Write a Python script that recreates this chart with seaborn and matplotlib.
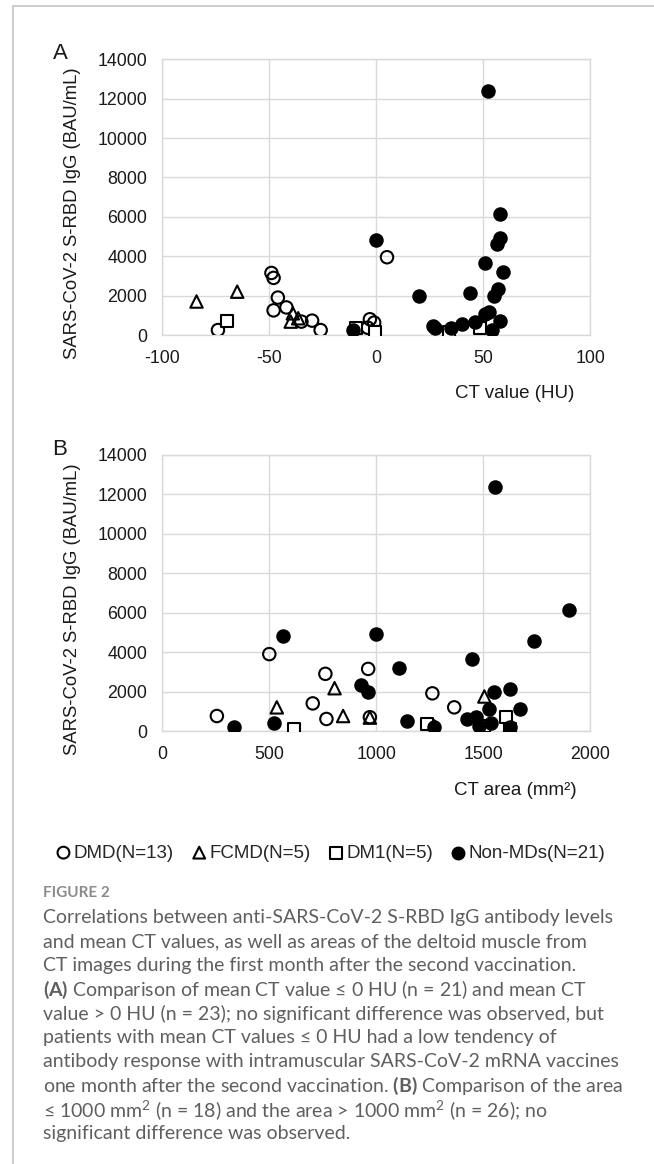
import matplotlib
matplotlib.use("Agg")
import matplotlib.pyplot as plt
import seaborn as sns
import pandas as pd
from matplotlib.lines import Line2D

# Panel A: mean CT value (HU) vs antibody level (BAU/mL)
dmd_ct = [-74, -49, -48, -46, -48, -42, -35, -30, -26, -3, -1, -4, 5]
dmd_igg_a = [250, 3150, 2900, 1900, 1250, 1400, 680, 730, 250, 800, 630, 370, 3950]
fcmd_ct = [-84, -65, -40, -39, -36.5]
fcmd_igg_a = [1700, 2200, 680, 1100, 850]
dm1_ct = [-70, -9.5, -0.5, 34, 48.5]
dm1_igg_a = [700, 370, 150, 130, 340]
nonmd_ct = [0, 20, 52, 58, 58, 56.5, 51, 59, 44, 56.7, 55, 52.5, 51, 58, 46, 40, 35, 26.5, 27.5, 54, -11]
nonmd_igg_a = [4800, 2000, 12400, 6150, 4950, 4600, 3650, 3200, 2150, 2350, 2000,
               1150, 1050, 720, 680, 560, 340, 460, 380, 250, 250]

# Panel B: CT area (mm2) vs antibody level (BAU/mL)
dmd_area = [255, 500, 703, 762, 767, 962, 970, 1262, 1364, 1255]
dmd_igg_b = [760, 3900, 1400, 2900, 610, 3150, 700, 1910, 1200, 280]
fcmd_area = [535, 805, 845, 970, 1505]
fcmd_igg_b = [1200, 2170, 760, 680, 1750]
dm1_area = [617, 1239, 1504, 1606, 1626]
dm1_igg_b = [90, 350, 270, 730, 90]
nonmd_area = [335, 520, 565, 930, 960, 1000, 1105, 1142, 1268, 1423, 1447, 1465, 1481,
              1525, 1536, 1548, 1555, 1626, 1626, 1671, 1735, 1900]
nonmd_igg_b = [220, 400, 4800, 2330, 1970, 4920, 3200, 520, 220, 610, 3650, 720, 270,
               1100, 390, 1960, 12380, 2130, 190, 1100, 4580, 6140]

groups = ["DMD(N=13)", "FCMD(N=5)", "DM1(N=5)", "Non-MDs(N=21)"]
y_ticks = [0, 2000, 4000, 6000, 8000, 10000, 12000, 14000]
a_ticks = [-100, -50, 0, 50, 100]
b_ticks = [0, 500, 1000, 1500, 2000]

caption_lines = [
    "Correlations between anti-SARS-CoV-2 S-RBD IgG antibody levels",
    "and mean CT values, as well as areas of the deltoid muscle from",
    "CT images during the first month after the second vaccination.",
    r"$\mathbf{(A)}$ Comparison of mean CT value ≤ 0 HU (n = 21) and mean CT",
    "value > 0 HU (n = 23); no significant difference was observed, but",
    "patients with mean CT values ≤ 0 HU had a low tendency of",
    "antibody response with intramuscular SARS-CoV-2 mRNA vaccines",
    r"one month after the second vaccination. $\mathbf{(B)}$ Comparison of the area",
    r"≤ 1000 mm$^2$ (n = 18) and the area > 1000 mm$^2$ (n = 26); no",
    "significant difference was observed.",
]

df_a = pd.DataFrame({
    "x": dmd_ct + fcmd_ct + dm1_ct + nonmd_ct,
    "y": dmd_igg_a + fcmd_igg_a + dm1_igg_a + nonmd_igg_a,
    "group": [groups[0]] * len(dmd_ct) + [groups[1]] * len(fcmd_ct)
             + [groups[2]] * len(dm1_ct) + [groups[3]] * len(nonmd_ct),
})
df_b = pd.DataFrame({
    "x": dmd_area + fcmd_area + dm1_area + nonmd_area,
    "y": dmd_igg_b + fcmd_igg_b + dm1_igg_b + nonmd_igg_b,
    "group": [groups[0]] * len(dmd_area) + [groups[1]] * len(fcmd_area)
             + [groups[2]] * len(dm1_area) + [groups[3]] * len(nonmd_area),
})

sns.set_theme(style="white")
plt.rcParams["font.family"] = ["Liberation Sans", "DejaVu Sans"]
plt.rcParams["axes.unicode_minus"] = False
plt.rcParams["mathtext.fontset"] = "custom"
plt.rcParams["mathtext.rm"] = "Lato"
plt.rcParams["mathtext.bf"] = "Lato:bold"
plt.rcParams["mathtext.it"] = "Lato:italic"

# marker styles per group
styles = {
    groups[0]: dict(marker="o", facecolor="none", s=80),
    groups[1]: dict(marker="^", facecolor="none", s=80),
    groups[2]: dict(marker="s", facecolor="white", s=75),
    groups[3]: dict(marker="o", facecolor="black", s=80),
}

W, H = 654, 1164
fig = plt.figure(figsize=(W / 100, H / 100), dpi=100)
ax_a = fig.add_axes([162.3 / W, 1 - 335 / H, 428 / W, 275.7 / H])
ax_b = fig.add_axes([162.3 / W, 1 - 731 / H, 428 / W, 276 / H])

grid_col = "#d9d9d9"


def draw_panel(ax, df, xlim, xticks, xlabel, letter):
    for g in groups:
        sub = df[df["group"] == g]
        st = styles[g]
        sns.scatterplot(data=sub, x="x", y="y", ax=ax, marker=st["marker"], s=st["s"],
                        facecolor=st["facecolor"], edgecolor="black", linewidth=1.5,
                        label=g, legend=False, zorder=3)
    ax.set_xlim(xlim)
    ax.set_ylim(0, 14000)
    ax.set_xticks(xticks)
    ax.set_yticks(y_ticks)
    ax.grid(True, color=grid_col, linewidth=1)
    for sp in ax.spines.values():
        sp.set_color(grid_col)
        sp.set_linewidth(1)
    ax.tick_params(axis="both", length=0, pad=11, labelsize=12.8, colors="#1a1a1a")
    ax.set_xlabel(xlabel, fontsize=13.5, color="#1a1a1a")
    ax.set_ylabel("SARS-CoV-2 S-RBD IgG (BAU/mL)", fontsize=13.3, color="#1a1a1a")
    ax.xaxis.set_label_coords(0.824, -0.214)
    ax.xaxis.label.set_va("center")
    ax.yaxis.set_label_coords(-0.209, 0.443)
    ax.yaxis.label.set_va("center")
    ax.text(-0.239, 1.02, letter, transform=ax.transAxes, fontsize=16,
            ha="center", va="center", color="#1a1a1a")


draw_panel(ax_a, df_a, (-100, 100), a_ticks, "CT value (HU)", "A")
draw_panel(ax_b, df_b, (0, 2000), b_ticks, "CT area (mm²)", "B")

handles, labels = ax_a.get_legend_handles_labels()
fig.legend(handles, labels, loc="center", bbox_to_anchor=(0.505, 1 - 853 / H), ncol=4,
           frameon=False, fontsize=13.5, handletextpad=0.1, columnspacing=0.9,
           handlelength=0.9, markerscale=0.95)

# frame around the figure block
fig.add_artist(Line2D([13 / W, 13 / W], [0, 1 - 6 / H], transform=fig.transFigure,
                      color="#c8c8c8", linewidth=1.3))
fig.add_artist(Line2D([13 / W, 1], [1 - 6 / H, 1 - 6 / H], transform=fig.transFigure,
                      color="#c8c8c8", linewidth=1.3))

cap_font = ["Lato", "DejaVu Sans"]
fig.text(43 / W, 1 - 893 / H, "FIGURE 2", fontsize=11, color="#8a8a8a",
         fontweight="bold", family=cap_font, va="center")
for i, line in enumerate(caption_lines):
    fig.text(43 / W, 1 - (918 + 24 * i) / H, line, fontsize=14, color="#5f5f5f",
             family=cap_font, va="center")

fig.savefig("out.png", dpi=100)
